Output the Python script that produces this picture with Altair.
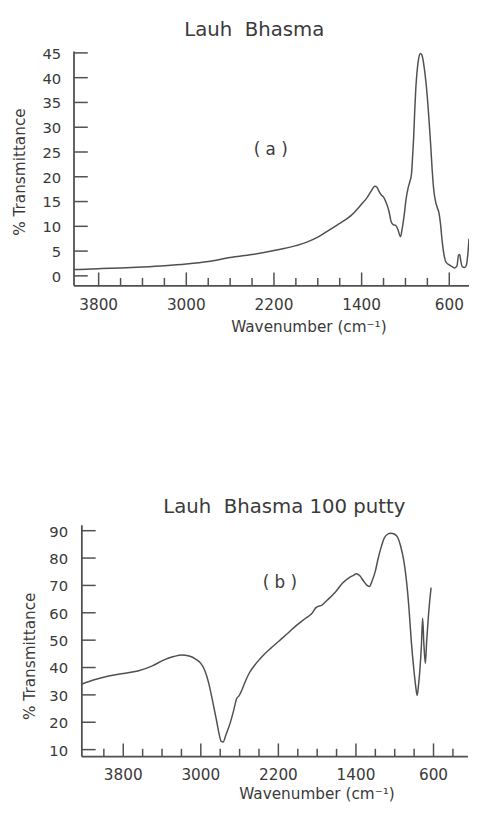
import altair as alt
import pandas as pd

TITLE_A = "Lauh\u00a0\u00a0Bhasma"
TITLE_B = "Lauh\u00a0\u00a0Bhasma 100 putty"
LABEL_A = "( a )"
LABEL_B = "( b )"
Y_TITLE = "% Transmittance"
X_TITLE = "Wavenumber (cm\u207b\u00b9)"

# Panel (a): Lauh Bhasma
a_wn = [4025, 4000, 3800, 3600, 3400, 3200, 3000, 2800, 2600, 2400, 2200, 2000, 1900, 1800,
        1700, 1600, 1500, 1450, 1400, 1350, 1310, 1280, 1260, 1240, 1220, 1200, 1180, 1150,
        1130, 1110, 1090, 1070, 1045, 1030, 1010, 995, 975, 960, 945, 935, 925, 915, 905,
        895, 880, 865, 850, 835, 820, 800, 785, 770, 755, 740, 725, 710, 695, 680, 665, 650,
        630, 600, 570, 550, 530, 515, 505, 495, 480, 460, 445, 430, 420]
a_t = [1.3, 1.3, 1.45, 1.6, 1.8, 2.05, 2.4, 2.9, 3.7, 4.3, 5.1, 6.1, 6.8, 7.8,
       9.2, 10.6, 12.1, 13.2, 14.5, 15.8, 17.2, 18.1, 17.9, 17.0, 16.3, 15.9, 15.0, 13.0,
       10.9, 10.3, 10.2, 9.4, 7.9, 9.5, 12.5, 15.4, 17.8, 19.0, 20.5, 24.0, 28.0, 33.5, 38.0,
       41.0, 43.8, 44.9, 44.6, 43.0, 40.5, 36.0, 31.5, 26.5, 21.0, 17.0, 15.0, 13.8, 12.8,
       10.5, 7.0, 4.5, 2.8, 2.2, 1.8, 1.6, 2.0, 4.2, 4.3, 3.0, 1.8, 1.7, 2.1, 4.5, 7.5]

# Panel (b): Lauh Bhasma 100 putty
b_wn = [4224, 4100, 3950, 3800, 3650, 3500, 3380, 3280, 3200, 3120, 3050, 3000, 2960, 2920,
        2880, 2840, 2810, 2790, 2770, 2740, 2700, 2660, 2630, 2605, 2580, 2540, 2500, 2430,
        2360, 2280, 2190, 2100, 2020, 1920, 1853, 1815, 1800, 1751, 1700, 1616, 1540, 1480,
        1430, 1395, 1360, 1320, 1285, 1260, 1235, 1200, 1176, 1140, 1108, 1075, 1040, 1005,
        970, 940, 904, 880, 854, 830, 803, 785, 769, 755, 742, 725, 712, 700, 684, 670, 650, 625]
b_t = [34.0, 35.5, 36.9, 37.8, 38.7, 40.6, 42.8, 44.0, 44.6, 44.2, 43.0, 41.5, 39.0, 34.5,
       28.0, 21.0, 15.5, 13.0, 12.8, 15.5, 19.4, 24.5, 28.7, 29.7, 31.5, 35.0, 38.0, 41.5,
       44.3, 47.0, 49.8, 52.6, 55.2, 58.0, 59.8, 61.8, 62.2, 62.8, 64.5, 67.4, 70.8, 72.6,
       73.6, 74.3, 73.5, 71.5, 70.0, 69.6, 71.5, 75.2, 79.1, 84.0, 87.3, 88.7, 89.1, 88.8,
       87.6, 84.5, 78.5, 72.0, 62.0, 50.0, 39.3, 33.5, 29.8, 33.5, 38.5, 48.0, 58.0, 49.0,
       41.5, 50.0, 60.0, 69.2]

major_ticks = [3800, 3000, 2200, 1400, 600]
major_labels = ["3800", "3000", "2200", "1400", "600"]
a_minor = [3600, 3400, 3200, 2800, 2600, 2400, 2000, 1800, 1600, 1200, 1000, 800]
b_minor = [4000, 3600, 3400, 3200, 2800, 2600, 2400, 2000, 1800, 1600, 1200, 1000, 800, 400]
a_yticks = [0, 5, 10, 15, 20, 25, 30, 35, 40, 45]
b_yticks = [10, 20, 30, 40, 50, 60, 70, 80, 90]

INK = "#505050"
TXT = "#3a3a3a"
FONT = "DejaVu Sans"

PAD_TOP = 38
W = 401      # plot width shared by both panels
H = 762      # one view holding both panels (page stays within 816 px)


def panel(wn, t, xdom, top_px, top_val, bot_val, ppu, yticks, minor, ax_wn, ax_end_wn, ax_px,
          title, title_xy, label, label_wn, label_t, ylab_px, xlab_px, xtitle_xy, ytitle_xy):
    xs = alt.Scale(domain=[xdom[1], xdom[0]], reverse=True, nice=False, zero=False)
    ys = alt.Scale(domain=[top_val - (H - top_px) / ppu, top_val + top_px / ppu],
                   nice=False, zero=False)
    base_px = top_px + (top_val - bot_val) * ppu

    def X(f):
        return alt.X(f, scale=xs, axis=None)

    def Y(f):
        return alt.Y(f, scale=ys, axis=None)

    curve = alt.Chart(pd.DataFrame({"wn": wn, "t": t})).mark_line(
        color=INK, strokeWidth=1.5, interpolate="monotone"
    ).encode(x=X("wn:Q"), y=Y("t:Q"))

    yline = alt.Chart(pd.DataFrame({"wn": [ax_wn], "t": [bot_val], "t2": [top_val]})).mark_rule(
        color=INK, strokeWidth=1.8
    ).encode(x=X("wn:Q"), y=Y("t:Q"), y2="t2:Q")
    xline = alt.Chart(pd.DataFrame({"wn": [ax_wn], "wn2": [ax_end_wn], "t": [bot_val]})).mark_rule(
        color=INK, strokeWidth=1.8
    ).encode(x=X("wn:Q"), x2="wn2:Q", y=Y("t:Q"))
    yt = alt.Chart(pd.DataFrame({"t": yticks})).mark_rule(color=INK, strokeWidth=1.5).encode(
        y=Y("t:Q"), x=alt.value(ax_px), x2=alt.value(ax_px + 14))
    xmaj = alt.Chart(pd.DataFrame({"wn": major_ticks})).mark_rule(color=INK, strokeWidth=1.5).encode(
        x=X("wn:Q"), y=alt.value(base_px), y2=alt.value(base_px - 13.5))
    xmin = alt.Chart(pd.DataFrame({"wn": minor})).mark_rule(color=INK, strokeWidth=1.5).encode(
        x=X("wn:Q"), y=alt.value(base_px), y2=alt.value(base_px - 8))

    ylab = alt.Chart(pd.DataFrame({"t": yticks, "s": [str(v) for v in yticks]})).mark_text(
        font=FONT, fontSize=15, color=TXT, align="right", baseline="middle", dy=1
    ).encode(y=Y("t:Q"), x=alt.value(ylab_px), text="s:N")
    xlab = alt.Chart(pd.DataFrame({"wn": major_ticks, "s": major_labels})).mark_text(
        font=FONT, fontSize=15.5, color=TXT, align="center", baseline="alphabetic"
    ).encode(x=X("wn:Q"), y=alt.value(xlab_px), text="s:N")

    ttl = alt.Chart(pd.DataFrame({"s": [title]})).mark_text(
        font=FONT, fontSize=20, color=TXT, align="center", baseline="alphabetic"
    ).encode(x=alt.value(title_xy[0]), y=alt.value(title_xy[1]), text="s:N")
    xttl = alt.Chart(pd.DataFrame({"s": [X_TITLE]})).mark_text(
        font=FONT, fontSize=15.5, color=TXT, align="center", baseline="alphabetic"
    ).encode(x=alt.value(xtitle_xy[0]), y=alt.value(xtitle_xy[1]), text="s:N")
    yttl = alt.Chart(pd.DataFrame({"s": [Y_TITLE]})).mark_text(
        font=FONT, fontSize=15.5, color=TXT, align="center", baseline="alphabetic", angle=270
    ).encode(x=alt.value(ytitle_xy[0]), y=alt.value(ytitle_xy[1]), text="s:N")

    lab = alt.Chart(pd.DataFrame({"wn": [label_wn], "t": [label_t], "s": [label]})).mark_text(
        font=FONT, fontSize=17, color=TXT, align="center", baseline="alphabetic"
    ).encode(x=X("wn:Q"), y=Y("t:Q"), text="s:N")

    return alt.layer(curve, yline, xline, yt, xmaj, xmin, ylab, xlab, ttl, xttl, yttl, lab)


pa = panel(a_wn, a_t, (4025, 420), 0, 45.3, -2.0, 5.03, a_yticks, a_minor, 4025, 420, 0,
           TITLE_A, (183, -15.3), LABEL_A, 2230, 24.4, -13, 262.2, (238.5, 284.6), (-49.5, 122.5))
pb = panel(b_wn, b_t, (4308, 234), 481, 92, 7.4, 2.778, b_yticks, b_minor, 4227, 245, 8,
           TITLE_B, (213.5, 468.7), LABEL_B, 2185, 69.0, -6, 739.7, (246.7, 759), (-39.5, 614))

chart = alt.layer(pa, pb).resolve_scale(x="independent", y="independent").properties(
    width=W, height=H,
    autosize=alt.AutoSizeParams(type="none"),
    padding={"left": 67, "top": PAD_TOP, "right": 0, "bottom": 0},
).configure_view(stroke=None)

chart.save("out.html", embed_options={"renderer": "svg", "actions": False})
